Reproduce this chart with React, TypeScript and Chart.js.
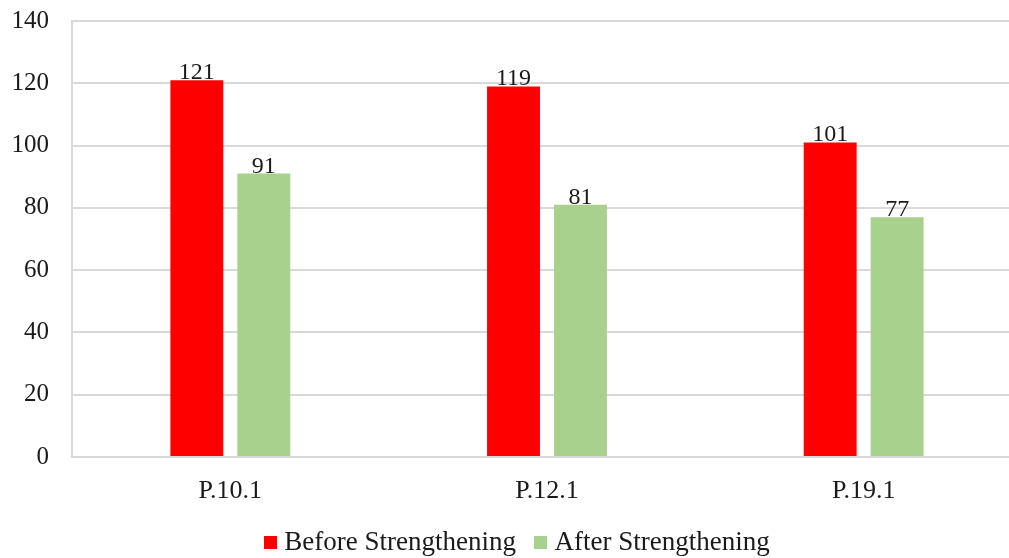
import React, { useEffect, useRef } from "react";
import { Chart, registerables } from "chart.js";

Chart.register(...registerables);

const categories = ["P.10.1", "P.12.1", "P.19.1"];
const beforeValues = [121, 119, 101];
const afterValues = [91, 81, 77];
const seriesNames = ["Before Strengthening", "After Strengthening"];
const seriesColors = ["#ff0000", "#a9d18e"];
const yTicks = { min: 0, max: 140, step: 20 };

const FONT = "'Liberation Serif', 'Times New Roman', serif";
const TEXT = "#1a1a1a";
const GRID = "#d9d9d9";

function makeSwatch(color: string, size: number) {
  const c = document.createElement("canvas");
  c.width = size;
  c.height = size;
  const g = c.getContext("2d")!;
  g.fillStyle = color;
  g.fillRect(0, 0, size, size);
  return c;
}

const valueLabels = {
  id: "valueLabels",
  afterDatasetsDraw(chart: any) {
    const ctx = chart.ctx;
    ctx.save();
    ctx.font = `24px ${FONT}`;
    ctx.fillStyle = TEXT;
    ctx.textAlign = "center";
    ctx.textBaseline = "alphabetic";
    chart.data.datasets.forEach((ds: any, i: number) => {
      const meta = chart.getDatasetMeta(i);
      meta.data.forEach((bar: any, j: number) => {
        ctx.fillText(String(ds.data[j]), bar.x, bar.y - 1);
      });
    });
    ctx.restore();
  },
};

const legendShift = {
  id: "legendShift",
  afterLayout(chart: any) {
    if (chart.legend) {
      chart.legend.left += 9;
      chart.legend.right += 9;
    }
  },
};

export default function App() {
  const ref = useRef<HTMLCanvasElement>(null);
  useEffect(() => {
    const swatches = seriesColors.map((c) => makeSwatch(c, 13));
    const chart = new Chart(ref.current!, {
      type: "bar",
      data: {
        labels: categories,
        datasets: [
          {
            label: seriesNames[0],
            data: beforeValues,
            backgroundColor: seriesColors[0],
            categoryPercentage: 0.423,
            barPercentage: 0.79,
          },
          {
            label: seriesNames[1],
            data: afterValues,
            backgroundColor: seriesColors[1],
            categoryPercentage: 0.423,
            barPercentage: 0.79,
          },
        ],
      },
      options: {
        responsive: false,
        animation: false,
        layout: { padding: { top: 21, right: 28, left: 0, bottom: 0 } },
        plugins: {
          tooltip: { enabled: false },
          legend: {
            position: "bottom",
            maxHeight: 53.5,
            labels: {
              font: { family: FONT, size: 27 },
              color: TEXT,
              usePointStyle: true,
              boxWidth: 0.5,
              boxHeight: 13,
              padding: 24.5,
              generateLabels: (ch: any) => {
                const items = Chart.defaults.plugins.legend.labels.generateLabels(ch);
                items.forEach((it: any, i: number) => {
                  it.pointStyle = swatches[i];
                });
                return items;
              },
            },
          },
        },
        scales: {
          x: {
            grid: { display: false },
            border: { display: true, color: GRID, width: 2 },
            ticks: { font: { family: FONT, size: 26 }, color: TEXT, padding: 11 },
            afterFit: (s: any) => {
              s.height = 47.5;
              s.paddingLeft = 0;
              s.paddingRight = 0;
            },
          },
          y: {
            min: yTicks.min,
            max: yTicks.max,
            ticks: {
              stepSize: yTicks.step,
              font: { family: FONT, size: 25 },
              color: TEXT,
              padding: 23,
            },
            grid: { color: GRID, lineWidth: 2, drawTicks: false },
            border: { display: true, color: GRID, width: 2 },
            afterFit: (s: any) => {
              s.width = 72;
              s.paddingTop = 0;
              s.paddingBottom = 0;
            },
          },
        },
      },
      plugins: [valueLabels, legendShift],
    });
    return () => chart.destroy();
  }, []);
  return (
    <div style={{ width: 1050, height: 558, position: "fixed", left: 0, top: 0 }}>
      <canvas ref={ref} width={1050} height={558} style={{ display: "block" }} />
    </div>
  );
}
